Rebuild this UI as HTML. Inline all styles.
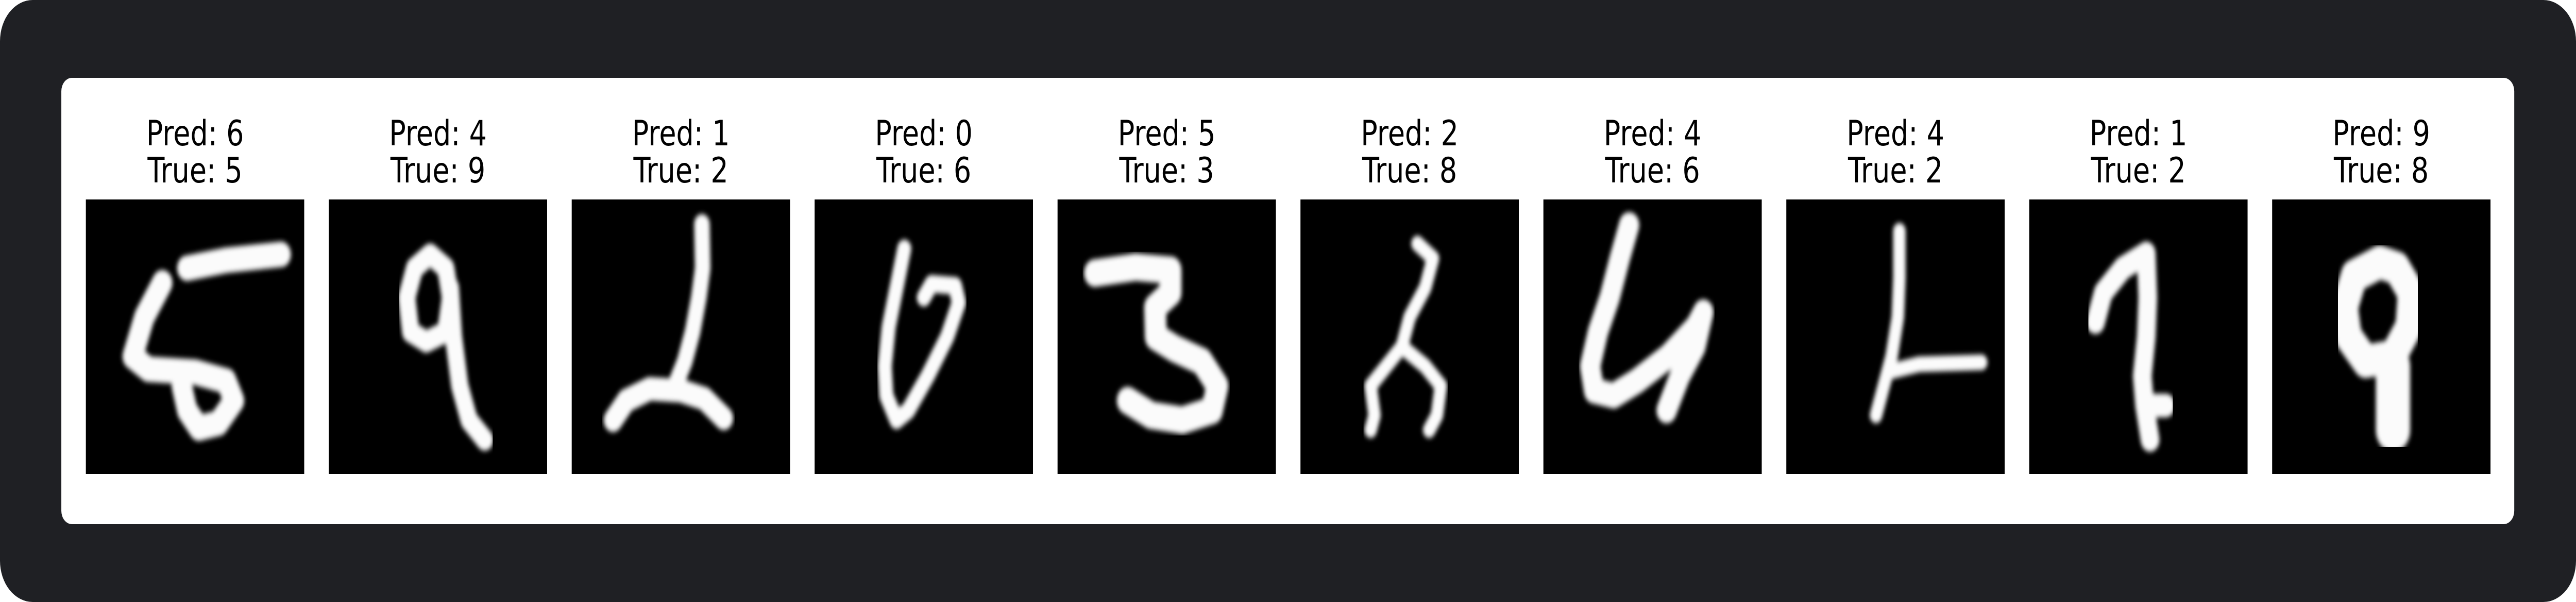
<!DOCTYPE html>
<html><head><meta charset="utf-8">
<style>
html,body{margin:0;padding:0;background:#ffffff;width:100%;height:100%;overflow:hidden;}
svg{display:block;width:100vw;height:100vh;}
</style></head>
<body>
<svg id="fig" viewBox="0 0 6300 1168" preserveAspectRatio="none" xmlns="http://www.w3.org/2000/svg">
  <rect x="0" y="0" width="6300" height="1168" rx="80" ry="80" fill="#1f2024"/>
  <rect x="150" y="151" width="5999" height="866" rx="26" ry="26" fill="#ffffff"/>
  <defs>
    <filter id="soft" x="-10%" y="-10%" width="120%" height="120%"><feGaussianBlur stdDeviation="5"/></filter>
  </defs>
  <g id="panels"></g>
</svg>
<script>
const preds = [6,4,1,0,5,2,4,4,1,9];
const trues = [5,9,2,6,3,8,6,2,2,8];
// stroke sketches in 28x28 image-pixel coordinates: [width, [[x,y],...]] per stroke
const strokes0 = [[2.6,[[13,7],[18,6.2],[25,5.6]]],[2.6,[[9.8,8.5],[7.5,12],[6,16],[8,17.3],[14,17.6],[18,18.5],[19,20.5],[17,22.8],[14.5,23.3],[13,21.5],[12.3,19]]]];
const strokes1 = [[2.2,[[15,7],[13,5.6],[11,7],[10,10],[10.5,13.5],[12.5,14.5],[15,13.5],[15.6,10],[15,7]]],[2.2,[[15.6,9],[16,14],[16.8,19],[18,22.5],[20,24.5]]]];
const strokes2 = [[2.0,[[16.7,2.5],[16.8,7],[16.3,10],[15.5,13.5],[14.5,16.5],[13,19.5]]],[2.4,[[5.3,22.5],[7,20.5],[10,19.3],[14,19.5],[17,20.3],[19.5,22.3]]]];
const strokes3 = [[1.8,[[11.5,5],[10.5,9],[9.5,13],[9,17],[9.2,20],[10.5,22.5],[12,21.5],[14.5,18],[17,14],[18.5,10.5],[18,8.8],[15,8.6],[14,10]]]];
const strokes4 = [[2.8,[[4.8,7.5],[10,6.9],[14.5,7.2],[14.5,9.5],[12.5,11],[12.6,14],[15,15.2],[18.5,16.5],[20.5,19],[19.8,21.5],[16,22.5],[12,22],[9,20.5]]]];
const strokes5 = [[1.6,[[15,4.5],[17,6],[16,9],[14,12],[13,15],[11,17],[9,19],[9.5,22],[9,23.5]]],[1.6,[[13,15],[16,17],[18,19],[17.5,22],[16.5,23.5]]]];
const strokes6 = [[2.6,[[11,2.6],[9.8,6],[8.5,10],[7,13.5],[6,17],[6.5,19.5],[9,20],[12,18.5],[16,16],[19.5,13],[20.5,11.5]]],[2.6,[[20.5,11.5],[19.5,15],[17.5,18],[15.8,21.5]]]];
const strokes7 = [[1.6,[[14.5,3.2],[14.5,8],[14.3,12],[13.5,16],[12.5,19],[11.5,22]]],[1.6,[[13.5,17.5],[17,16.8],[21,16.7],[25,16.6]]]];
const strokes8 = [[2.4,[[8.5,12.5],[9.5,9.5],[12,7],[15,5.5],[15.2,10],[15,14],[14.5,18],[14.8,21],[15.5,24.5]]],[2.4,[[15,21],[17.5,21]]]];
const strokes9 = [[3.4,[[13.8,6.4],[10.5,7.8],[9.3,11],[9.8,14],[12,16.5],[15.5,16],[17.5,13],[17.8,9.5],[16,7],[13.8,6.4]]],[4.4,[[15.5,17],[15.5,21],[15.5,23.5]]]];
const digitStrokes = [strokes0,strokes1,strokes2,strokes3,strokes4,strokes5,strokes6,strokes7,strokes8,strokes9];

const NS = "http://www.w3.org/2000/svg";
const g = document.getElementById('panels');
const x0 = 210, pitch = 594.1, imgW = 534, imgY = 387, imgH = 533;
function px(i, v){ return x0 + i*pitch + v/28*imgW; }
function py(v){ return imgY + v/28*imgH; }

for (let i = 0; i < preds.length; i++) {
  const cx = x0 + i*pitch + imgW/2;
  const grp = document.createElementNS(NS,'g');
  
  

  const t1 = document.createElementNS(NS,'text');
  
  
  t1.setAttribute('x', cx); t1.setAttribute('y', 282);
  t1.setAttribute('text-anchor','middle');
  t1.setAttribute('font-family','"DejaVu Sans","Liberation Sans",sans-serif');
  t1.setAttribute('font-size','68'); t1.setAttribute('fill','#000');
  t1.textContent = 'Pred: ' + preds[i];
  grp.appendChild(t1);

  const t2 = document.createElementNS(NS,'text');
  
  
  t2.setAttribute('x', cx); t2.setAttribute('y', 354);
  t2.setAttribute('text-anchor','middle');
  t2.setAttribute('font-family','"DejaVu Sans","Liberation Sans",sans-serif');
  t2.setAttribute('font-size','68'); t2.setAttribute('fill','#000');
  t2.textContent = 'True: ' + trues[i];
  grp.appendChild(t2);

  const bg = document.createElementNS(NS,'rect');
  
  
  bg.setAttribute('x', x0 + i*pitch); bg.setAttribute('y', imgY);
  bg.setAttribute('width', imgW); bg.setAttribute('height', imgH);
  bg.setAttribute('fill', '#000');
  grp.appendChild(bg);

  const sg = document.createElementNS(NS,'g');
  sg.setAttribute('filter','url(#soft)');
  digitStrokes[i].forEach((s, k) => {
    const pl = document.createElementNS(NS,'polyline');
    
    
    pl.setAttribute('points', s[1].map(p => px(i,p[0]).toFixed(1)+','+py(p[1]).toFixed(1)).join(' '));
    pl.setAttribute('fill','none');
    pl.setAttribute('stroke','#fbfbfb');
    pl.setAttribute('stroke-width', (s[0]/28*imgW).toFixed(1));
    pl.setAttribute('stroke-linecap','round');
    pl.setAttribute('stroke-linejoin','round');
    sg.appendChild(pl);
  });
  grp.appendChild(sg);
  g.appendChild(grp);
}
</script>
</body></html>
